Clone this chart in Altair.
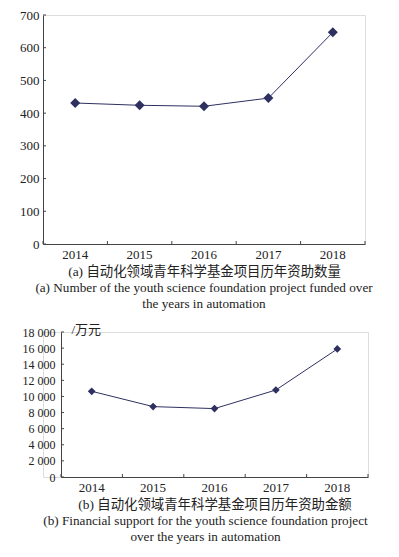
import altair as alt
import pandas as pd

years = ["2014", "2015", "2016", "2017", "2018"]
counts = [431, 424, 421, 446, 647]
funds = [10640, 8740, 8490, 10800, 15890]
yticks_a = [0, 100, 200, 300, 400, 500, 600, 700]
yticks_b = [0, 2000, 4000, 6000, 8000, 10000, 12000, 14000, 16000, 18000]

cap_a_cn = "(a) 自动化领域青年科学基金项目历年资助数量"
cap_a_en = ["(a) Number of the youth science foundation project funded over",
            "the years in automation"]
cap_b_cn = "(b) 自动化领域青年科学基金项目历年资助金额"
cap_b_en = ["(b) Financial support for the youth science foundation project",
            "over the years in automation"]
unit_b = "/万元"

C = "#2e3060"
AX = "#444444"
FONT = "Liberation Serif, Times New Roman, Noto Sans CJK SC"


def panel(vals, yticks, ymax, W, H, shift, cap_cn, cap_en, lab_size, lab_pad,
          min_ext, msize, label_expr=None, unit=None):
    df = pd.DataFrame({"year": years, "v": vals})
    xscale = alt.Scale(type="band", paddingInner=0, paddingOuter=0,
                       range=[shift, shift + W])
    yscale = alt.Scale(domain=[0, ymax], nice=False)
    yaxis_kw = dict(values=yticks, ticks=False, grid=False, domainColor=AX,
                    labelColor="#222", labelFont=FONT, labelFontSize=lab_size,
                    labelPadding=lab_pad, minExtent=min_ext, maxExtent=min_ext,
                    labelOverlap=False, labelFlush=False, offset=-shift)
    if label_expr:
        yaxis_kw["labelExpr"] = label_expr
    if unit:
        yaxis_kw.update(title=unit, titleAngle=0, titleX=10, titleY=-3,
                        titleAlign="left", titleBaseline="middle",
                        titleFont=FONT, titleFontSize=13, titleFontWeight="normal",
                        titleColor="#222")
    else:
        yaxis_kw["title"] = None
    yaxis = alt.Axis(**yaxis_kw)
    xaxis = alt.Axis(title=cap_cn, ticks=False, grid=False, domainColor=AX,
                     labelAngle=0, labelColor="#222", labelFont=FONT,
                     labelFontSize=13, labelPadding=4, titleFont=FONT,
                     titleFontSize=13.4, titleFontWeight="normal", titleColor="#222",
                     titlePadding=3, labelOverlap=False)
    base = alt.Chart(df)
    line = base.mark_line(color=C, strokeWidth=1).encode(
        x=alt.X("year:N", scale=xscale, axis=xaxis, sort=years),
        y=alt.Y("v:Q", scale=yscale, axis=yaxis),
    )
    pts = base.mark_point(shape="diamond", filled=True, color=C, size=msize,
                          opacity=1).encode(
        x=alt.X("year:N", sort=years, scale=xscale, axis=xaxis),
        y=alt.Y("v:Q", scale=yscale, axis=yaxis))
    yt = alt.Chart(pd.DataFrame({"v": yticks})).mark_rule(
        color=AX, strokeWidth=1).encode(
        y=alt.Y("v:Q", scale=yscale, axis=yaxis),
        x=alt.value(shift), x2=alt.value(shift + 3))
    xt = alt.Chart(pd.DataFrame({"year": years})).mark_rule(
        color=AX, strokeWidth=1).encode(
        x=alt.X("year:N", bandPosition=0, sort=years, scale=xscale, axis=xaxis),
        y=alt.value(H - 3), y2=alt.value(H))
    xt_end = alt.Chart(pd.DataFrame({"year": years[-1:]})).mark_rule(
        color=AX, strokeWidth=1).encode(
        x=alt.X("year:N", bandPosition=1, sort=years, scale=xscale, axis=xaxis),
        y=alt.value(H - 3), y2=alt.value(H))
    return alt.layer(line, pts, yt, xt, xt_end).properties(
        width=W + shift, height=H,
        title=alt.TitleParams(text=cap_en, orient="bottom", anchor="middle",
                              font=FONT, fontSize=13.2, fontWeight="normal",
                              color="#222", lineHeight=16, offset=5),
    )


a = panel(counts, yticks_a, 700, 322, 229, 0, cap_a_cn, cap_a_en, 13, 4, 34, 100)
b = panel(funds, yticks_b, 18000, 307, 145, 18, cap_b_cn, cap_b_en, 12, 6, 16, 60,
          label_expr="replace(format(datum.value, ','), ',', ' ')", unit=unit_b)

chart = alt.vconcat(a, b, spacing=10).properties(
    padding={"left": 0, "top": 0, "right": 0, "bottom": 0}
).configure_view(stroke=None).configure(background="white")

chart.save("out.html", embed_options={"renderer": "svg", "actions": False})
